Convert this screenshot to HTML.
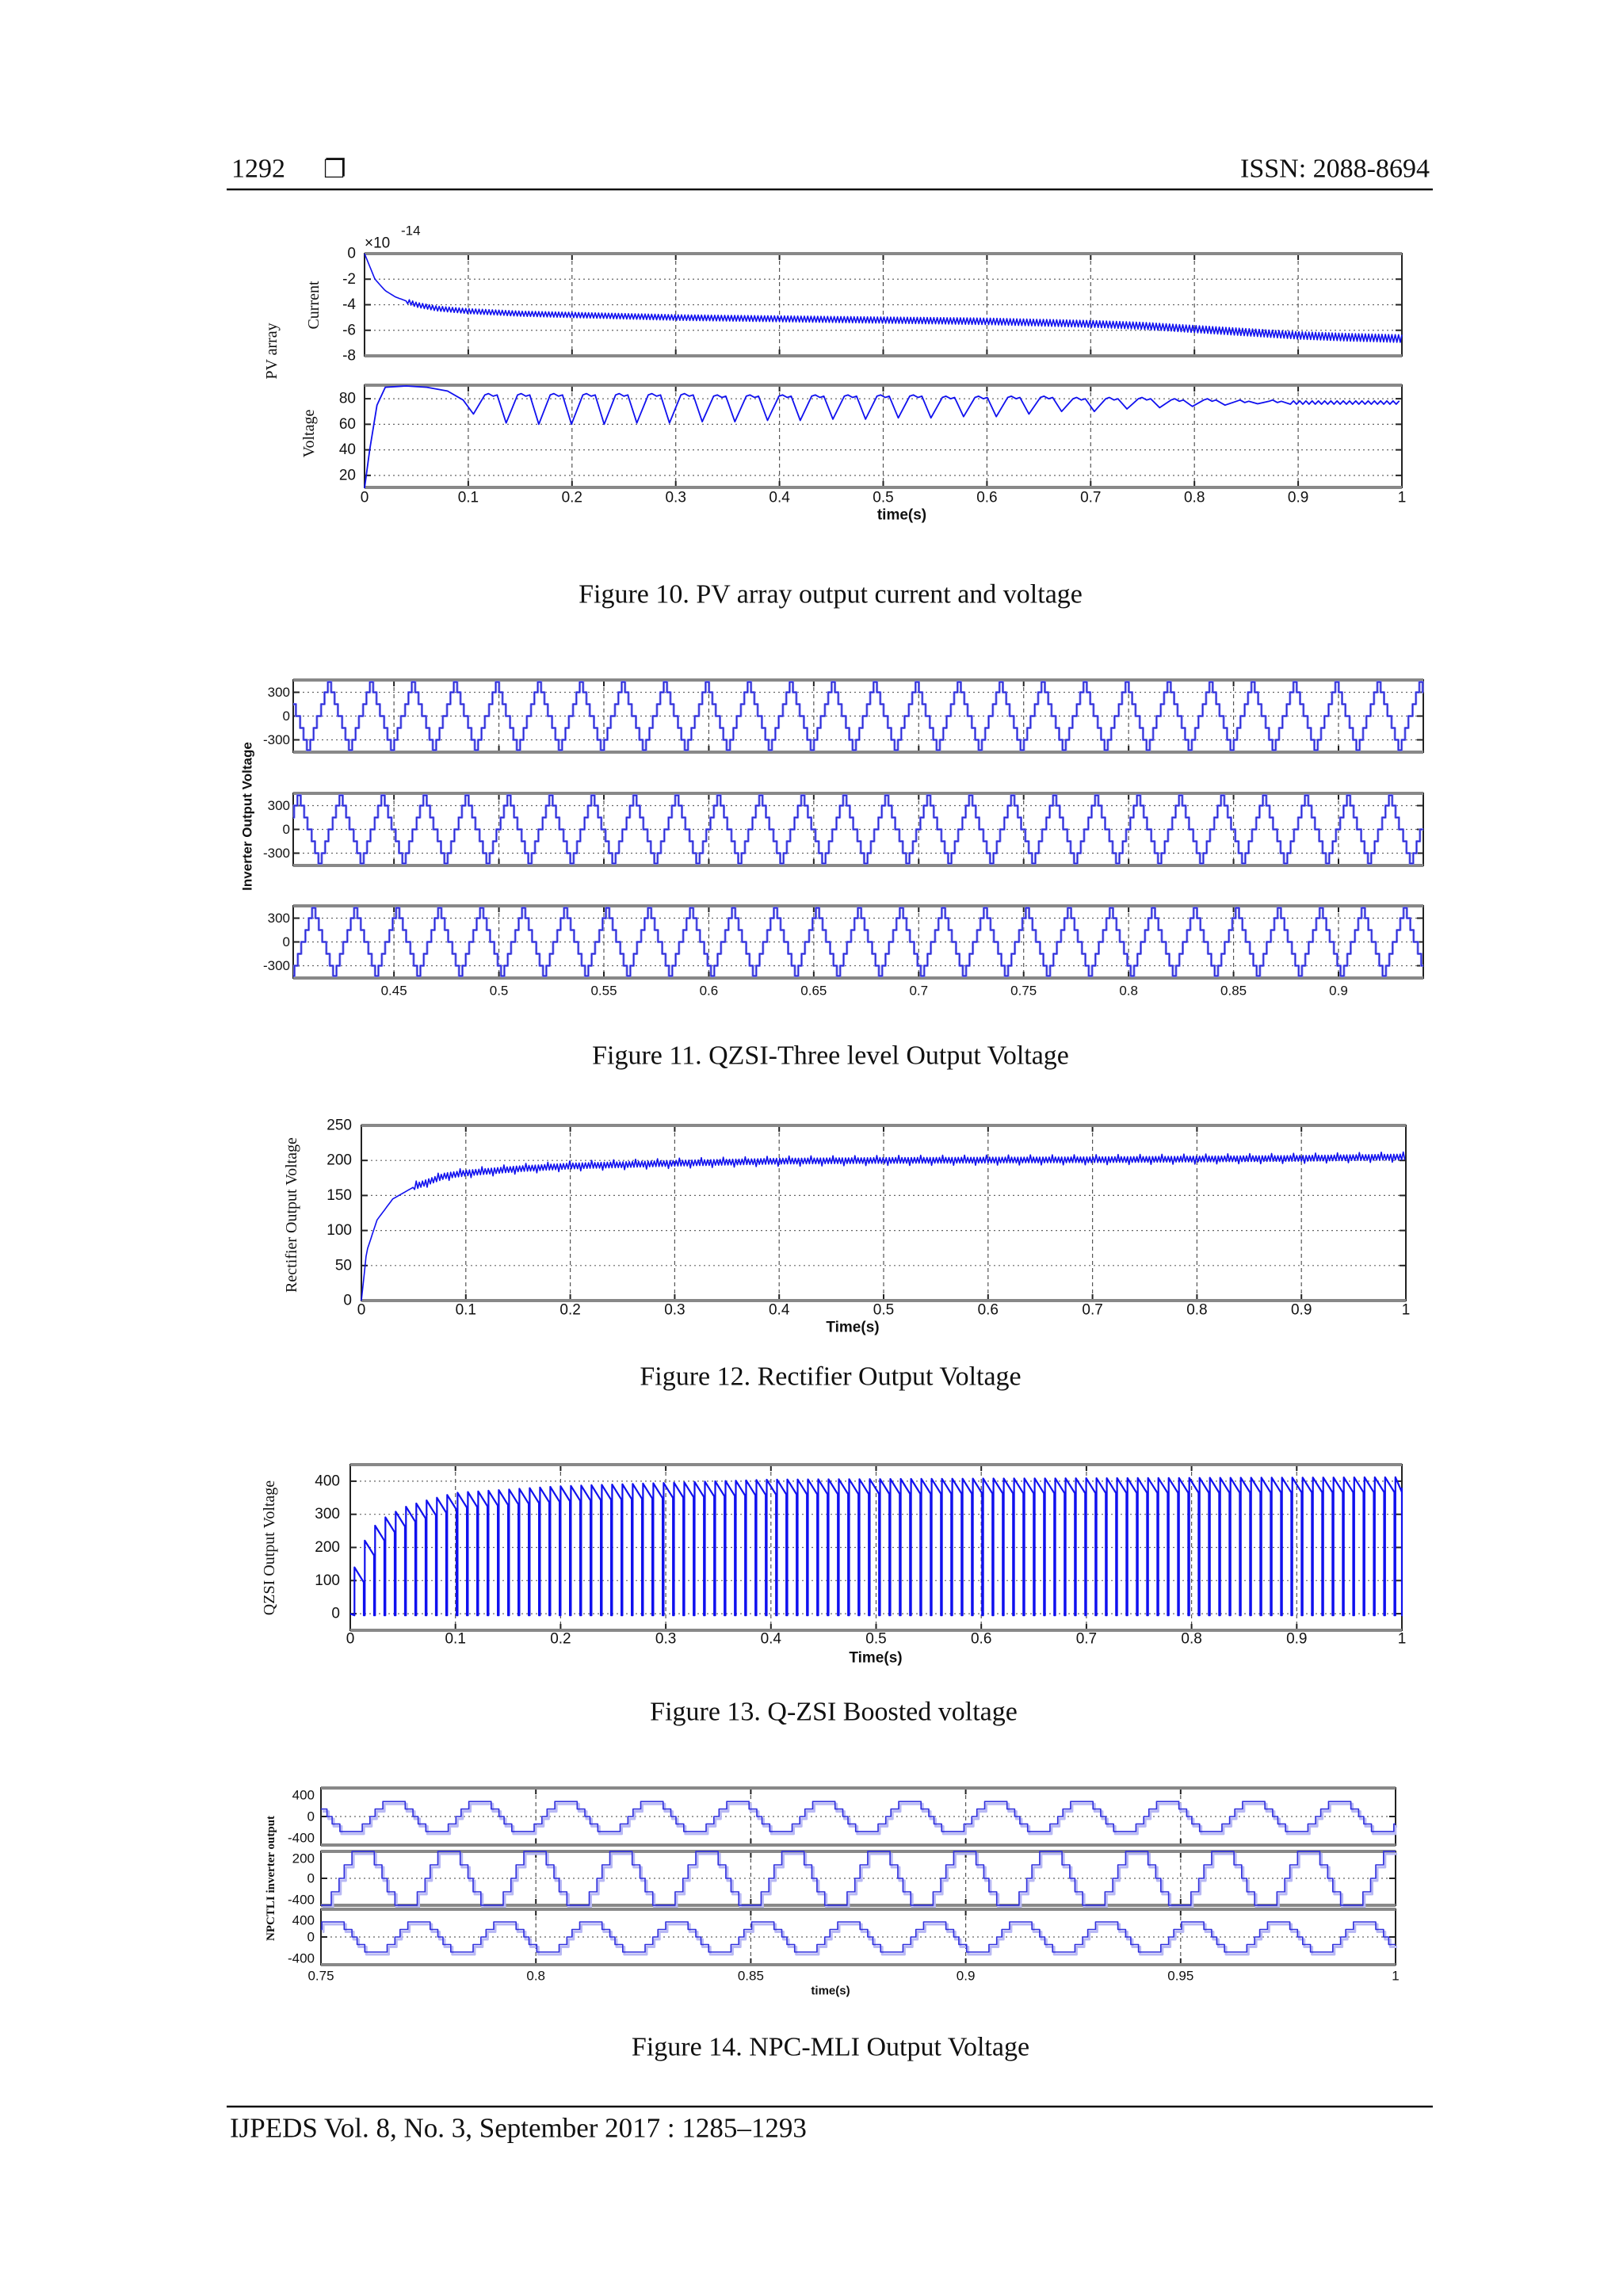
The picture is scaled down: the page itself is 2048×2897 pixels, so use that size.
<!DOCTYPE html>
<html><head><meta charset="utf-8">
<style>
html,body{margin:0;padding:0;background:#fff;}
svg{display:block;}
text{font-family:"Liberation Sans",sans-serif;}
.serif{font-family:"Liberation Serif",serif;}
</style></head>
<body>
<svg id="page" xmlns="http://www.w3.org/2000/svg" width="2048" height="2897" viewBox="0 0 2048 2897">
<rect x="0" y="0" width="2048" height="2897" fill="#fff"/>
</svg>
<script>
// ---------- data ----------
const axisTicks01 = [0,0.1,0.2,0.3,0.4,0.5,0.6,0.7,0.8,0.9,1];
const axisTickLabels01 = ['0','0.1','0.2','0.3','0.4','0.5','0.6','0.7','0.8','0.9','1'];
// Fig 10 current (x1e-14)
const curT = [0,0.01,0.02,0.03,0.05,0.07,0.1,0.15,0.2,0.3,0.4,0.5,0.6,0.7,0.75,0.8,0.85,0.9,0.95,1];
const curV = [0,-2,-2.9,-3.4,-4,-4.3,-4.5,-4.7,-4.8,-5,-5.1,-5.2,-5.3,-5.5,-5.65,-5.9,-6.15,-6.4,-6.55,-6.65];
const curTicks = [0,-2,-4,-6,-8];
// Fig 10 voltage
const voltStartT = [0,0.005,0.012,0.02,0.04,0.06,0.08,0.095];
const voltStartV = [10,40,75,89,90,89,86,79];
const voltTrough = [68,61,60,60,60,61,61,62,62,63,63,64,64,65,65,66,66,68,70,70,72,73,74,75,76];
const voltPeak = [84,84,84,84,84,84,84,83,83,83,83,83,83,83,82,82,82,82,81,81,81,80,80,79,79];
const voltSteady = 77;
const voltTicks = [80,60,40,20];
// Fig 11 inverter
const invTicks = [0.45,0.5,0.55,0.6,0.65,0.7,0.75,0.8,0.85,0.9];
const invTickLabels = ['0.45','0.5','0.55','0.6','0.65','0.7','0.75','0.8','0.85','0.9'];
const invPhasePeak = [0.4192,0.4247,0.4117];
const invStepEdges = [0.04,0.12,0.2,0.3,0.38,0.46,0.5];
const invStepVals = [430,300,150,0,-150,-300,-430];
const invYTicks = [300,0,-300];
// Fig 12 rectifier
const recT = [0,0.005,0.015,0.03,0.05,0.08,0.1,0.15,0.2,0.3,0.4,0.5,0.7,0.9,1];
const recV = [0,70,115,145,162,178,182,188,192,196,199,200,201,203,205];
const recTicks = [0,50,100,150,200,250];
// Fig 13 QZSI
const qT = [0,0.01,0.02,0.03,0.05,0.07,0.1,0.15,0.2,0.3,0.4,0.6,0.8,1];
const qPk = [100,200,255,285,320,340,365,375,385,395,405,408,410,412];
const qTicks = [400,300,200,100,0];
// Fig 14 NPC
const npcTicks = [0.75,0.8,0.85,0.9,0.95,1];
const npcTickLabels = ['0.75','0.8','0.85','0.9','0.95','1'];
const npcPhasePeak = [0.7669,0.7597,0.7527];
const npcStepEdges = [0.13,0.22,0.28,0.37,0.5];
const npcStepVals = [280,140,0,-140,-280];

// ---------- helpers ----------
const NS='http://www.w3.org/2000/svg';
const svg=document.getElementById('page');
function mk(tag,attrs,parent){const e=document.createElementNS(NS,tag);for(const k in attrs)e.setAttribute(k,attrs[k]);(parent||svg).appendChild(e);return e;}
function txt(x,y,s,size,anchor,cls,parent,weight){const e=mk('text',{x:x,y:y,'font-size':size,'text-anchor':anchor||'start','dominant-baseline':'central',fill:'#111'},parent);if(cls)e.setAttribute('class',cls);if(weight)e.setAttribute('font-weight',weight);e.textContent=s;return e;}
function lin(d0,d1,r0,r1){return v=>r0+(v-d0)/(d1-d0)*(r1-r0);}
function interp(ts,vs,t){if(t<=ts[0])return vs[0];for(let i=1;i<ts.length;i++){if(t<=ts[i]){const f=(t-ts[i-1])/(ts[i]-ts[i-1]);return vs[i-1]+f*(vs[i]-vs[i-1]);}}return vs[vs.length-1];}
function frame(g,x0,x1,y0,y1,xs,ys,name){
  const r=mk('rect',{x:x0,y:y0,width:x1-x0,height:y1-y0,fill:'#fff',stroke:'#222','stroke-width':2},g);
  
  
  xs.forEach(x=>{const l=mk('line',{x1:x,y1:y0,x2:x,y2:y1,stroke:'#555','stroke-width':1.2,'stroke-dasharray':'5,4'},g);
    
    
    mk('line',{x1:x,y1:y1,x2:x,y2:y1-8,stroke:'#222','stroke-width':2},g);mk('line',{x1:x,y1:y0,x2:x,y2:y0+8,stroke:'#222','stroke-width':2},g);});
  ys.forEach(y=>{const l=mk('line',{x1:x0,y1:y,x2:x1,y2:y,stroke:'#666','stroke-width':1.2,'stroke-dasharray':'2,4'},g);
    
    
    mk('line',{x1:x0,y1:y,x2:x0+8,y2:y,stroke:'#222','stroke-width':2},g);mk('line',{x1:x1,y1:y,x2:x1-8,y2:y,stroke:'#222','stroke-width':2},g);});
  mk('line',{x1:x0,y1:y0,x2:x1,y2:y0,stroke:'#888','stroke-width':4},g);
  mk('line',{x1:x0,y1:y1,x2:x1,y2:y1,stroke:'#888','stroke-width':4},g);
}
function poly(g,pts,color,w,name){const p=mk('polyline',{points:pts.map(p=>p[0].toFixed(1)+','+p[1].toFixed(1)).join(' '),fill:'none',stroke:color,'stroke-width':w,'stroke-linejoin':'round'},g);
  
  return p;}
function rot(x,y,s,size,name,weight,cls){const e=txt(x,y,s,size,'middle',cls,null,weight);e.setAttribute('transform','rotate(-90 '+x+' '+y+')');
  
  return e;}

// ---------- header ----------
let e;
e=txt(292,213,'1292',34,'start','serif');


e=txt(408,213,'❐',32,'start','serif');


e=txt(1804,213,'ISSN: 2088-8694',34,'end','serif');


e=mk('line',{x1:286,y1:239,x2:1808,y2:239,stroke:'#111','stroke-width':2.5});



// ---------- Figure 10 ----------
(function(){
  const g=mk('g',{});
  
  
  const X0=460,X1=1769;const sx=lin(0,1,X0,X1);
  const cy=lin(0,-8,320,449);
  frame(g,X0,X1,320,449,axisTicks01.slice(1,-1).map(sx),curTicks.slice(1,-1).map(cy),'current');
  curTicks.forEach(v=>{const t=txt(449,cy(v),String(v),19,'end',null,g);
    
    });
  let pts=[];let k=0;
  for(let t=0;t<=1.0001;t+=0.0016){const v=interp(curT,curV,t);const a=t<0.04?0:(0.18+0.12*t)*(k%2?1:-1);k++;pts.push([sx(t),cy(v+a)]);}
  poly(g,pts,'#1010ee',1.6,'current-series');
  const vy=lin(90.6,10.6,486,615);
  frame(g,X0,X1,486,615,axisTicks01.slice(1,-1).map(sx),voltTicks.map(vy),'voltage');
  voltTicks.forEach(v=>{const t=txt(449,vy(v),String(v),19,'end',null,g);
    
    });
  pts=voltStartT.map((t,i)=>[sx(t),vy(voltStartV[i])]);
  const P=0.0315;
  voltTrough.forEach((tr,i)=>{const t=0.105+i*P;pts.push([sx(t),vy(tr)]);pts.push([sx(t+0.011),vy(voltPeak[i]-1)]);pts.push([sx(t+0.0145),vy(voltPeak[i])]);pts.push([sx(t+0.019),vy(voltPeak[i]-2)]);pts.push([sx(t+0.0228),vy(voltPeak[i]-1)]);});
  k=0;for(let t=0.105+voltTrough.length*P;t<=1.0001;t+=0.003){pts.push([sx(t),vy(voltSteady+(k%2?1.3:-1.3))]);k++;}
  poly(g,pts,'#1010ee',1.8,'voltage-series');
  axisTicks01.forEach((v,i)=>{const t=txt(sx(v),628,axisTickLabels01[i],19,'middle',null,g);
    
    });
  e=txt(1138,650,'time(s)',19,'middle',null,g,'bold');
  
  
  e=txt(460,307,'×10',19,'start',null,g);
  
  
  e=txt(506,291,'-14',17,'start',null,g);
  
  
  rot(396,385,'Current',20,'current-y-title',null,'serif');
  rot(390,547,'Voltage',20,'voltage-y-title',null,'serif');
  rot(343,443,'PV array',20,'pv-array-title',null,'serif');
})();
e=txt(1048,750,'Figure 10. PV array output current and voltage',34,'middle','serif');



// ---------- Figure 11 ----------
(function(){
  const g=mk('g',{});
  
  
  const X0=370,X1=1796;const sx=lin(0.402,0.9404,X0,X1);
  const panels=[[858,949],[1001,1092],[1143,1234]];
  function stepVal(ph){const a=Math.abs(ph);for(let i=0;i<invStepEdges.length;i++){if(a<invStepEdges[i])return invStepVals[i];}return invStepVals[invStepVals.length-1];}
  panels.forEach((p,pi)=>{
    const vy=lin(455,-455,p[0],p[1]);
    frame(g,X0,X1,p[0],p[1],invTicks.map(sx),invYTicks.map(vy),'inverter-phase-'+(pi+1));
    invYTicks.forEach(v=>{const t=txt(366,vy(v),String(v),17,'end',null,g);
      
      });
    const T=0.02;let pts=[];let prev=null;
    for(let t=0.402;t<=0.9404;t+=0.0001){let ph=((t-invPhasePeak[pi])/T)%1;if(ph<0)ph+=1;if(ph>0.5)ph-=1;const v=stepVal(ph);
      if(prev!==null&&v!==prev)pts.push([sx(t),vy(prev)]);pts.push([sx(t),vy(v)]);prev=v;}
    poly(g,pts,'#8a8af0',3,'inverter-phase-'+(pi+1)+'-shadow');
    poly(g,pts,'#2a2ad8',1.4,'inverter-phase-'+(pi+1)+'-series');
  });
  invTicks.forEach((v,i)=>{const t=txt(sx(v),1250,invTickLabels[i],17,'middle',null,g);
    
    });
  rot(312,1030,'Inverter Output Voltage',17,'inverter-y-title','bold');
})();
e=txt(1048,1332,'Figure 11. QZSI-Three level Output Voltage',34,'middle','serif');



// ---------- Figure 12 ----------
(function(){
  const g=mk('g',{});
  
  
  const X0=456,X1=1774;const sx=lin(0,1,X0,X1);const vy=lin(0,250,1641,1420);
  frame(g,X0,X1,1420,1641,axisTicks01.slice(1,-1).map(sx),recTicks.slice(1,-1).map(vy),'rectifier');
  recTicks.forEach(v=>{const t=txt(444,vy(v),String(v),19,'end',null,g);
    
    });
  let pts=[];let k=0;
  for(let t=0;t<=1.0001;t+=0.0015){const v=interp(recT,recV,t);const a=t<0.05?0:(k%2?4:-4)*(k%7===0?1.8:1);k++;pts.push([sx(t),vy(v+a)]);}
  poly(g,pts,'#1010ee',1.6,'rectifier-series');
  axisTicks01.forEach((v,i)=>{const t=txt(sx(v),1653,axisTickLabels01[i],19,'middle',null,g);
    
    });
  e=txt(1076,1675,'Time(s)',19,'middle',null,g,'bold');
  
  
  rot(368,1533,'Rectifier Output Voltage',20,'rectifier-y-title',null,'serif');
})();
e=txt(1048,1737,'Figure 12. Rectifier Output Voltage',34,'middle','serif');



// ---------- Figure 13 ----------
(function(){
  const g=mk('g',{});
  
  
  const X0=442,X1=1769;const sx=lin(0,1,X0,X1);const vy=lin(450,-50,1848,2057);
  frame(g,X0,X1,1848,2057,axisTicks01.slice(1,-1).map(sx),qTicks.map(vy),'qzsi');
  qTicks.forEach(v=>{const t=txt(429,vy(v),String(v),19,'end',null,g);
    
    });
  const T=0.0098;let pts=[[sx(0),vy(0)]];
  for(let t=0.004;t<0.999;t+=T){const pk=interp(qT,qPk,t);const te=Math.min(t+T*0.9,1);
    pts.push([sx(t),vy(-5)]);pts.push([sx(t),vy(pk)]);pts.push([sx(te),vy(pk-45)]);pts.push([sx(te),vy(-5)]);}
  pts.push([sx(1),vy(380)]);
  poly(g,pts,'#1010ee',2.2,'qzsi-series');
  axisTicks01.forEach((v,i)=>{const t=txt(sx(v),2068,axisTickLabels01[i],19,'middle',null,g);
    
    });
  e=txt(1105,2092,'Time(s)',19,'middle',null,g,'bold');
  
  
  rot(340,1953,'QZSI Output Voltage',20,'qzsi-y-title',null,'serif');
})();
e=txt(1052,2160,'Figure 13. Q-ZSI Boosted voltage',34,'middle','serif');



// ---------- Figure 14 ----------
(function(){
  const g=mk('g',{});
  
  
  const X0=405,X1=1761;const sx=lin(0.75,1,X0,X1);
  const panels=[{y0:2256,y1:2328,zero:2292,k:27/400,ticks:[400,0,-400],labs:['400','0','-400']},
                {y0:2336,y1:2404,zero:2370,k:0.125,ticks:[200,0,-216],labs:['200','0','-400']},
                {y0:2409,y1:2479,zero:2444,k:21/400,ticks:[400,0,-514],labs:['400','0','-400']}];
  const amp=[1,0.97,1.29];
  function stepVal(ph){const a=Math.abs(ph);for(let i=0;i<npcStepEdges.length;i++){if(a<npcStepEdges[i])return npcStepVals[i];}return npcStepVals[npcStepVals.length-1];}
  panels.forEach((p,pi)=>{
    const vy=v=>p.zero-v*p.k;
    frame(g,X0,X1,p.y0,p.y1,npcTicks.slice(1,-1).map(sx),[vy(0)],'npc-phase-'+(pi+1));
    p.ticks.forEach((v,i)=>{const t=txt(397,vy(v),p.labs[i],17,'end',null,g);
      
      });
    const T=0.02;let pts=[];let prev=null;
    for(let t=0.75;t<=1;t+=0.0001){let ph=((t-npcPhasePeak[pi])/T)%1;if(ph<0)ph+=1;if(ph>0.5)ph-=1;const v=stepVal(ph)*amp[pi];
      if(prev!==null&&v!==prev)pts.push([sx(t),vy(prev)]);pts.push([sx(t),vy(v)]);prev=v;}
    poly(g,pts.map(q=>[q[0]+2,q[1]+3]),'#b8b8f4',3,'npc-phase-'+(pi+1)+'-shadow');
    poly(g,pts,'#3030dd',1.6,'npc-phase-'+(pi+1)+'-series');
  });
  npcTicks.forEach((v,i)=>{const t=txt(sx(v),2493,npcTickLabels[i],17,'middle',null,g);
    
    });
  e=txt(1048,2512,'time(s)',15,'middle',null,g,'bold');
  
  
  rot(342,2370,'NPCTLI inverter output',15,'npc-y-title','bold','serif');
})();
e=txt(1048,2583,'Figure 14. NPC-MLI Output Voltage',34,'middle','serif');



// ---------- footer ----------
e=mk('line',{x1:286,y1:2658,x2:1808,y2:2658,stroke:'#111','stroke-width':2.5});


e=txt(290,2685,'IJPEDS Vol. 8, No. 3, September 2017 : 1285–1293',35,'start','serif');


</script>
</body></html>
